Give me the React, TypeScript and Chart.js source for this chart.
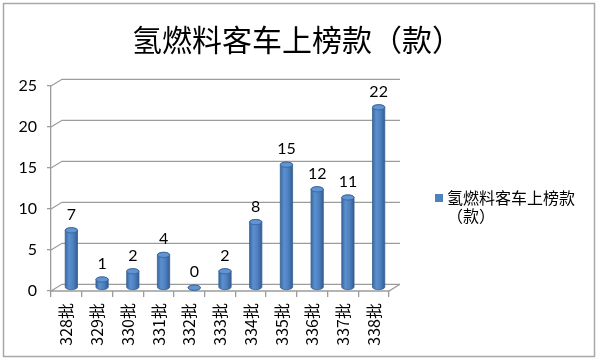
import React, { useEffect, useRef } from 'react';
import { Chart, registerables } from 'chart.js';

Chart.register(...registerables);

const TITLE = '氢燃料客车上榜款（款）';
const SERIES_NAME = '氢燃料客车上榜款（款）';
const LEGEND_LINES = ['氢燃料客车上榜款', '（款）'];
const CATEGORIES = ['328批', '329批', '330批', '331批', '332批', '333批', '334批', '335批', '336批', '337批', '338批'];
const VALUES = [7, 1, 2, 4, 0, 2, 8, 15, 12, 11, 22];
const Y_MIN = 0;
const Y_MAX = 25;
const Y_STEP = 5;

// 3D look
const DX = 11;
const DY = -6.7;
const SX = 5;
const SY = -3.3;
const GRID = '#9c9c9c';
const BAR = '#4F81BD';

const threeD = {
  id: 'threeD',
  beforeDraw(chart: any) {
    const { ctx, width, height } = chart;
    ctx.save();
    ctx.fillStyle = '#ffffff';
    ctx.fillRect(0, 0, width, height);
    ctx.strokeStyle = '#a8a8a8';
    ctx.lineWidth = 1.5;
    ctx.strokeRect(3.5, 3.5, 591, 353);
    ctx.fillStyle = '#000';
    ctx.font = '30px "Noto Sans CJK SC"';
    ctx.textAlign = 'center';
    ctx.textBaseline = 'middle';
    ctx.fillText(TITLE, 297, 40);
    ctx.restore();
  },
  beforeDatasetsDraw(chart: any) {
    const { ctx, chartArea } = chart;
    const { left, right, bottom } = chartArea;
    const y = chart.scales.y;
    ctx.save();
    ctx.strokeStyle = GRID;
    ctx.lineWidth = 1.3;
    y.ticks.forEach((t: any) => {
      const py = y.getPixelForValue(t.value);
      ctx.beginPath();
      ctx.moveTo(left, py);
      ctx.lineTo(left + DX, py + DY);
      ctx.lineTo(right + DX, py + DY);
      ctx.stroke();
    });
    ctx.beginPath();
    ctx.moveTo(left, bottom);
    ctx.lineTo(right, bottom);
    ctx.lineTo(right + DX, bottom + DY);
    ctx.stroke();
    ctx.restore();
  },
  afterDatasetsDraw(chart: any) {
    const { ctx } = chart;
    const meta = chart.getDatasetMeta(0);
    ctx.save();
    meta.data.forEach((bar: any, i: number) => {
      const p = bar.getProps(['x', 'y', 'base', 'width'], true);
      const cx = p.x + SX;
      const ty = p.y + SY;
      const by = p.base + SY;
      const rx = p.width / 2;
      const ry = 2.6;
      const g = ctx.createLinearGradient(cx - rx, 0, cx + rx, 0);
      g.addColorStop(0, '#3a679f');
      g.addColorStop(0.3, '#5b8fd0');
      g.addColorStop(0.65, '#4d80bf');
      g.addColorStop(1, '#335c92');
      ctx.beginPath();
      ctx.moveTo(cx - rx, ty);
      ctx.lineTo(cx - rx, by);
      ctx.ellipse(cx, by, rx, ry, 0, Math.PI, 0, true);
      ctx.lineTo(cx + rx, ty);
      ctx.ellipse(cx, ty, rx, ry, 0, 0, Math.PI, true);
      ctx.closePath();
      ctx.fillStyle = g;
      ctx.fill();
      ctx.strokeStyle = '#37618f';
      ctx.lineWidth = 0.8;
      ctx.stroke();
      ctx.beginPath();
      ctx.ellipse(cx, ty, rx, ry, 0, 0, Math.PI * 2);
      ctx.fillStyle = '#6094d2';
      ctx.fill();
      ctx.stroke();
      // data label
      ctx.fillStyle = '#000';
      ctx.font = '16px Lato, "Noto Sans CJK SC"';
      ctx.textAlign = 'center';
      ctx.textBaseline = 'middle';
      ctx.fillText(String(VALUES[i]), cx, ty - ry - 13);
    });
    ctx.restore();
  },
  afterDraw(chart: any) {
    const { ctx } = chart;
    ctx.save();
    ctx.fillStyle = BAR;
    ctx.fillRect(435, 194, 8, 8);
    ctx.fillStyle = '#000';
    ctx.font = '16px "Noto Sans CJK SC"';
    ctx.textAlign = 'left';
    ctx.textBaseline = 'middle';
    LEGEND_LINES.forEach((line, i) => {
      ctx.fillText(line, 447, 198 + i * 18);
    });
    ctx.restore();
  },
};

export default function App() {
  const ref = useRef<HTMLCanvasElement>(null);
  useEffect(() => {
    document.body.style.margin = '0';
    const canvas = ref.current;
    if (!canvas) return;
    const chart = new Chart(canvas, {
      type: 'bar',
      data: {
        labels: CATEGORIES,
        datasets: [
          {
            label: SERIES_NAME,
            data: VALUES,
            backgroundColor: 'rgba(0,0,0,0)',
            borderWidth: 0,
            barPercentage: 0.4,
            categoryPercentage: 1,
          },
        ],
      },
      options: {
        responsive: false,
        animation: false,
        devicePixelRatio: 1,
        layout: { padding: { left: 0, right: 211, top: 86, bottom: 0 } },
        plugins: {
          legend: { display: false },
          title: { display: false },
          tooltip: { enabled: false },
        },
        scales: {
          x: {
            grid: {
              display: true,
              drawOnChartArea: false,
              drawTicks: true,
              tickLength: 6,
              color: GRID,
              lineWidth: 1.3,
              offset: true,
            },
            border: { display: false },
            ticks: {
              minRotation: 90,
              maxRotation: 90,
              autoSkip: false,
              padding: 6,
              color: '#000',
              font: { family: '"Liberation Sans Narrow", "Noto Sans CJK SC"', size: 16 },
            },
            afterFit(s: any) {
              s.height = 70;
            },
          },
          y: {
            min: Y_MIN,
            max: Y_MAX,
            ticks: {
              stepSize: Y_STEP,
              padding: 10,
              color: '#000',
              font: { family: 'Lato, "Noto Sans CJK SC"', size: 16 },
            },
            grid: {
              display: true,
              drawOnChartArea: false,
              drawTicks: true,
              tickLength: 4,
              color: GRID,
              lineWidth: 1.3,
            },
            border: { display: true, color: GRID, width: 1.3 },
            afterFit(s: any) {
              s.width = 51;
            },
          },
        },
      },
      plugins: [threeD],
    });
    return () => chart.destroy();
  }, []);
  return <canvas ref={ref} width={600} height={361} style={{ display: 'block' }} />;
}
